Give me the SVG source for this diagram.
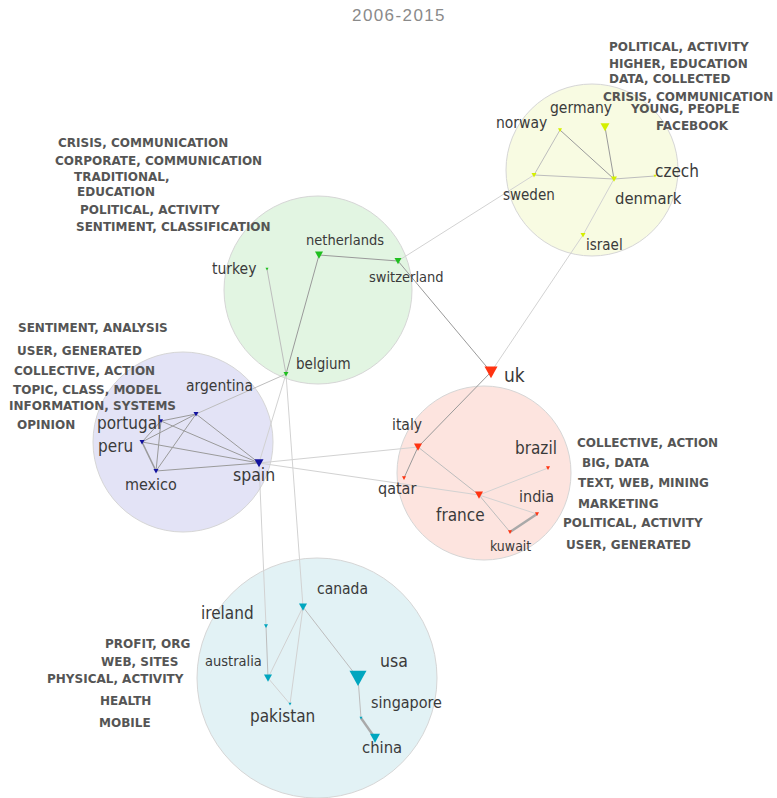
<svg xmlns="http://www.w3.org/2000/svg" xmlns:xlink="http://www.w3.org/1999/xlink" width="777" height="798" viewBox="0 0 777 798">
<style>
.bg{fill:#ffffff}
.title{font-family:"Liberation Sans",Arial,sans-serif;font-size:17px;fill:#8a8a8a;letter-spacing:1.4px}
.cl{stroke:#d6d6d6;stroke-width:1}
.lab{font-family:"DejaVu Sans Condensed","DejaVu Sans",sans-serif;fill:#3a3a3a}
.kw{font-family:"DejaVu Sans","Liberation Sans",sans-serif;font-weight:bold;font-size:12px;fill:#555555}
.e{fill:none;stroke:#bdbdbd;stroke-width:1}
.ed{stroke:#9a9a9a}
.el{stroke:#d2d2d2}
.et{stroke:#a9a9a9;stroke-width:2.4}
.yel{fill:#d4ef00}
.grn{fill:#1fbf1f}
.pur{fill:#12129e}
.red{fill:#ff3311}
.blu{fill:#00a6bf}
</style>
<defs>
<path id="tri" d="M-1,-0.85 L1,-0.85 L0,0.95 Z"/>
</defs>
<rect class="bg" x="0" y="0" width="777" height="798"/>
<text class="title" x="399" y="21" text-anchor="middle">2006-2015</text>

<g id="clusters">
<circle class="cl" cx="592" cy="170" r="86" fill="#f8fbe2"/>
<circle class="cl" cx="318" cy="290" r="94" fill="#e2f5e2"/>
<circle class="cl" cx="183" cy="442" r="90" fill="#e3e3f6"/>
<circle class="cl" cx="484" cy="473" r="87" fill="#fde4df"/>
<circle class="cl" cx="317" cy="678" r="120" fill="#e2f2f5"/>
</g>

<g id="connectors">
<line class="e" x1="560" y1="130" x2="534" y2="175"/>
<line class="e ed" x1="560" y1="130" x2="614" y2="179"/>
<line class="e" x1="534" y1="175" x2="614" y2="179"/>
<line class="e ed" x1="605" y1="127" x2="614" y2="179"/>
<line class="e" x1="614" y1="179" x2="655" y2="176"/>
<line class="e el" x1="614" y1="179" x2="583" y2="235"/>
<line class="e el" x1="534" y1="175" x2="398" y2="261"/>
<line class="e el" x1="583" y1="235" x2="491" y2="372"/>
<line class="e ed" x1="319" y1="255" x2="398" y2="261"/>
<line class="e ed" x1="319" y1="255" x2="286" y2="374"/>
<line class="e" x1="267" y1="269" x2="286" y2="374"/>
<line class="e ed" x1="398" y1="261" x2="491" y2="372"/>
<line class="e" x1="286" y1="374" x2="196" y2="414"/>
<line class="e el" x1="286" y1="374" x2="259" y2="463"/>
<line class="e el" x1="286" y1="374" x2="303" y2="607"/>
<line class="e ed" x1="196" y1="414" x2="161" y2="421"/>
<line class="e ed" x1="196" y1="414" x2="142" y2="442"/>
<line class="e ed" x1="196" y1="414" x2="156" y2="471"/>
<line class="e ed" x1="196" y1="414" x2="259" y2="463"/>
<line class="e ed" x1="161" y1="421" x2="142" y2="442"/>
<line class="e ed" x1="161" y1="421" x2="156" y2="471"/>
<line class="e ed" x1="161" y1="421" x2="259" y2="463"/>
<line class="e ed" x1="142" y1="442" x2="156" y2="471" style="stroke-width:1.6"/>
<line class="e ed" x1="142" y1="442" x2="259" y2="463"/>
<line class="e ed" x1="156" y1="471" x2="259" y2="463"/>
<line class="e el" x1="259" y1="463" x2="418" y2="447"/>
<line class="e el" x1="259" y1="463" x2="479" y2="495"/>
<line class="e el" x1="259" y1="463" x2="266" y2="626"/>
<line class="e ed" x1="491" y1="372" x2="418" y2="447"/>
<line class="e ed" x1="418" y1="447" x2="404" y2="478"/>
<line class="e" x1="418" y1="447" x2="479" y2="495"/>
<line class="e el" x1="479" y1="495" x2="548" y2="468"/>
<line class="e el" x1="479" y1="495" x2="537" y2="514"/>
<line class="e" x1="479" y1="495" x2="510" y2="532"/>
<line class="e et" x1="510" y1="532" x2="537" y2="514"/>
<line class="e" x1="266" y1="626" x2="268" y2="678"/>
<line class="e el" x1="303" y1="607" x2="268" y2="678"/>
<line class="e el" x1="303" y1="607" x2="290" y2="704"/>
<line class="e el" x1="268" y1="678" x2="290" y2="704"/>
<line class="e" x1="303" y1="607" x2="358" y2="678"/>
<line class="e" x1="358" y1="678" x2="361" y2="718"/>
<line class="e et" x1="361" y1="718" x2="375" y2="738"/>
</g>

<g id="n-germany"><use xlink:href="#tri" class="yel" transform="translate(605,127) scale(4.5)"/><text class="lab" x="550" y="113" font-size="15.5">germany</text></g>
<g id="n-norway"><use xlink:href="#tri" class="yel" transform="translate(560,130) scale(2)"/><text class="lab" x="496" y="128" font-size="15.5">norway</text></g>
<g id="n-sweden"><use xlink:href="#tri" class="yel" transform="translate(534,175) scale(2.5)"/><text class="lab" x="503" y="200" font-size="15">sweden</text></g>
<g id="n-denmark"><use xlink:href="#tri" class="yel" transform="translate(614,179) scale(3)"/><text class="lab" x="615" y="204" font-size="16.5">denmark</text></g>
<g id="n-czech"><use xlink:href="#tri" class="yel" transform="translate(655,176) scale(1.5)"/><text class="lab" x="655" y="177" font-size="17">czech</text></g>
<g id="n-israel"><use xlink:href="#tri" class="yel" transform="translate(583,235) scale(2.5)"/><text class="lab" x="586" y="250" font-size="15">israel</text></g>

<g id="n-netherlands"><use xlink:href="#tri" class="grn" transform="translate(319,255) scale(4)"/><text class="lab" x="306" y="245" font-size="14.5">netherlands</text></g>
<g id="n-switzerland"><use xlink:href="#tri" class="grn" transform="translate(398,261) scale(3.5)"/><text class="lab" x="369" y="282" font-size="14.5">switzerland</text></g>
<g id="n-turkey"><use xlink:href="#tri" class="grn" transform="translate(267,269) scale(1.5)"/><text class="lab" x="212" y="274" font-size="15.5">turkey</text></g>
<g id="n-belgium"><use xlink:href="#tri" class="grn" transform="translate(286,374) scale(2.5)"/><text class="lab" x="296" y="369" font-size="15">belgium</text></g>

<g id="n-argentina"><use xlink:href="#tri" class="pur" transform="translate(196,414) scale(2.5)"/><text class="lab" x="186" y="391" font-size="15.5">argentina</text></g>
<g id="n-portugal"><use xlink:href="#tri" class="pur" transform="translate(161,421) scale(2)"/><text class="lab" x="97" y="429" font-size="17">portugal</text></g>
<g id="n-peru"><use xlink:href="#tri" class="pur" transform="translate(142,442) scale(2.5)"/><text class="lab" x="98" y="452" font-size="17">peru</text></g>
<g id="n-mexico"><use xlink:href="#tri" class="pur" transform="translate(156,471) scale(2.5)"/><text class="lab" x="125" y="490" font-size="16">mexico</text></g>
<g id="n-spain"><use xlink:href="#tri" class="pur" transform="translate(259,463) scale(4.5)"/><text class="lab" x="233" y="481" font-size="17.5">spain</text></g>

<g id="n-uk"><use xlink:href="#tri" class="red" transform="translate(491,372) scale(6.5)"/><text class="lab" x="504" y="382" font-size="19">uk</text></g>
<g id="n-italy"><use xlink:href="#tri" class="red" transform="translate(418,447) scale(4)"/><text class="lab" x="392" y="430" font-size="15.5">italy</text></g>
<g id="n-qatar"><use xlink:href="#tri" class="red" transform="translate(404,478) scale(2)"/><text class="lab" x="378" y="494" font-size="16">qatar</text></g>
<g id="n-france"><use xlink:href="#tri" class="red" transform="translate(479,495) scale(4)"/><text class="lab" x="436" y="521" font-size="17">france</text></g>
<g id="n-brazil"><use xlink:href="#tri" class="red" transform="translate(548,468) scale(2)"/><text class="lab" x="515" y="454" font-size="17">brazil</text></g>
<g id="n-india"><use xlink:href="#tri" class="red" transform="translate(537,514) scale(2)"/><text class="lab" x="519" y="502" font-size="16">india</text></g>
<g id="n-kuwait"><use xlink:href="#tri" class="red" transform="translate(510,532) scale(2)"/><text class="lab" x="490" y="551" font-size="14">kuwait</text></g>

<g id="n-canada"><use xlink:href="#tri" class="blu" transform="translate(303,607) scale(4)"/><text class="lab" x="317" y="594" font-size="15.5">canada</text></g>
<g id="n-ireland"><use xlink:href="#tri" class="blu" transform="translate(266,626) scale(2)"/><text class="lab" x="201" y="619" font-size="17">ireland</text></g>
<g id="n-australia"><use xlink:href="#tri" class="blu" transform="translate(268,678) scale(4)"/><text class="lab" x="205" y="666" font-size="14.5">australia</text></g>
<g id="n-pakistan"><use xlink:href="#tri" class="blu" transform="translate(290,704) scale(1.5)"/><text class="lab" x="250" y="722" font-size="17">pakistan</text></g>
<g id="n-usa"><use xlink:href="#tri" class="blu" transform="translate(358,678) scale(8.5)"/><text class="lab" x="380" y="667" font-size="17.5">usa</text></g>
<g id="n-singapore"><use xlink:href="#tri" class="blu" transform="translate(361,718) scale(1.5)"/><text class="lab" x="371" y="708" font-size="16">singapore</text></g>
<g id="n-china"><use xlink:href="#tri" class="blu" transform="translate(375,738) scale(5)"/><text class="lab" x="362" y="753" font-size="16.5">china</text></g>

<g id="keywords">
<text class="kw" x="609" y="51">POLITICAL, ACTIVITY</text>
<text class="kw" x="609" y="68">HIGHER, EDUCATION</text>
<text class="kw" x="609" y="83">DATA, COLLECTED</text>
<text class="kw" x="603" y="101">CRISIS, COMMUNICATION</text>
<text class="kw" x="631" y="113">YOUNG, PEOPLE</text>
<text class="kw" x="656" y="130">FACEBOOK</text>

<text class="kw" x="58" y="147">CRISIS, COMMUNICATION</text>
<text class="kw" x="55" y="165">CORPORATE, COMMUNICATION</text>
<text class="kw" x="74" y="181">TRADITIONAL,</text>
<text class="kw" x="77" y="196">EDUCATION</text>
<text class="kw" x="80" y="214">POLITICAL, ACTIVITY</text>
<text class="kw" x="76" y="231">SENTIMENT, CLASSIFICATION</text>

<text class="kw" x="18" y="332">SENTIMENT, ANALYSIS</text>
<text class="kw" x="17" y="355">USER, GENERATED</text>
<text class="kw" x="14" y="375">COLLECTIVE, ACTION</text>
<text class="kw" x="13" y="394">TOPIC, CLASS, MODEL</text>
<text class="kw" x="9" y="410">INFORMATION, SYSTEMS</text>
<text class="kw" x="17" y="429">OPINION</text>

<text class="kw" x="577" y="447">COLLECTIVE, ACTION</text>
<text class="kw" x="582" y="467">BIG, DATA</text>
<text class="kw" x="578" y="487">TEXT, WEB, MINING</text>
<text class="kw" x="578" y="508">MARKETING</text>
<text class="kw" x="563" y="527">POLITICAL, ACTIVITY</text>
<text class="kw" x="566" y="549">USER, GENERATED</text>

<text class="kw" x="105" y="648">PROFIT, ORG</text>
<text class="kw" x="101" y="666">WEB, SITES</text>
<text class="kw" x="47" y="683">PHYSICAL, ACTIVITY</text>
<text class="kw" x="100" y="705">HEALTH</text>
<text class="kw" x="99" y="727">MOBILE</text>
</g>
</svg>
